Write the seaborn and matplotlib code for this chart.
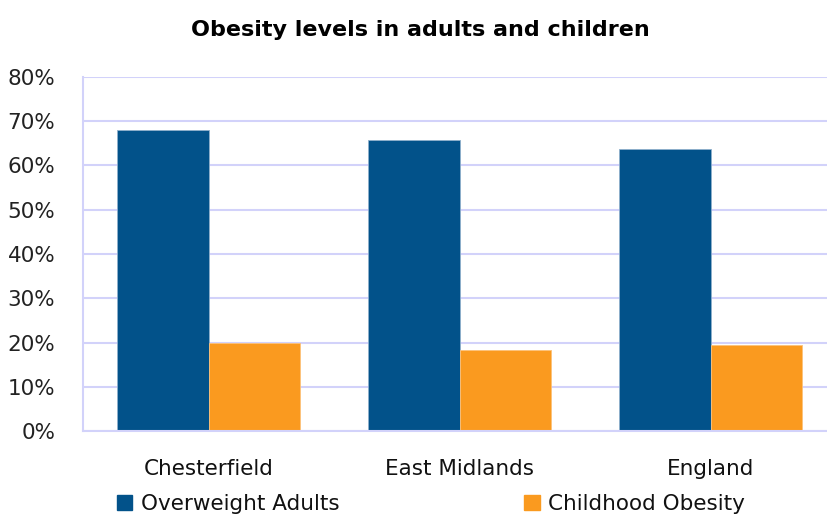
import pandas as pd
import matplotlib
matplotlib.use("Agg")
import matplotlib.pyplot as plt
import matplotlib.ticker as mticker
from matplotlib.patches import Patch
import seaborn as sns

# values (fractions)
areas = ["Chesterfield", "East Midlands", "England"]
overweight_adults = [0.68, 0.657, 0.637]
childhood_obesity = [0.199, 0.184, 0.195]
series_names = ["Overweight Adults", "Childhood Obesity"]
colours = ["#02528a", "#fa9a1f"]
edge_colours = ["#8fb0cc", "#fcc27a"]

df = pd.DataFrame({
    "area": areas * 2,
    "series": [series_names[0]] * 3 + [series_names[1]] * 3,
    "value": overweight_adults + childhood_obesity,
})

sns.set_style("white")
plt.rcParams["font.family"] = ["DejaVu Sans"]

grid_col = "#d2d2fa"

fig = plt.figure(figsize=(8.27, 5.15), dpi=100)
ax = fig.add_axes([0.1004, 0.1631, 0.9105, 0.6874])

sns.barplot(data=df, x="area", y="value", hue="series", palette=colours,
            width=0.73, gap=0, ax=ax, legend=False, saturation=1, linewidth=0.6)

# light edge per series, like the original
for cont, ec in zip(ax.containers, edge_colours):
    for bar in cont:
        bar.set_edgecolor(ec)

ax.set_ylim(0, 0.8)
ax.set_xlim(-0.5, 2.5)
ax.yaxis.set_major_locator(mticker.MultipleLocator(0.1))
ax.yaxis.set_major_formatter(mticker.FuncFormatter(lambda v, p: f"{v*100:.0f}%"))
ax.grid(axis="y", color=grid_col, linewidth=1.5)
ax.set_axisbelow(True)
ax.set_xlabel("")
ax.set_ylabel("")

for s in ["top", "right"]:
    ax.spines[s].set_visible(False)
for s in ["left", "bottom"]:
    ax.spines[s].set_color(grid_col)
    ax.spines[s].set_linewidth(1.5)

ax.tick_params(axis="y", length=10, width=1.5, color=grid_col, labelsize=15.5,
               labelcolor="#222222", pad=10)
ax.tick_params(axis="x", which="major", length=0, labelsize=15.5,
               labelcolor="#111111", pad=20)
ax.set_xticks([-0.5, 0.5, 1.5, 2.5], minor=True)
ax.tick_params(axis="x", which="minor", length=10, width=1.5, color=grid_col)

fig.suptitle("Obesity levels in adults and children", x=0.508, y=0.962,
             fontsize=16, fontweight="heavy", color="black")

# the original legend sits right at the bottom edge; keep it just inside
handles = [Patch(facecolor=c, edgecolor=c) for c in colours]
fig.legend(handles, series_names, loc="lower left", bbox_to_anchor=(0.1415, 0.002),
           ncol=2, frameon=False, fontsize=15.5, handlelength=0.7, handleheight=0.7,
           handletextpad=0.4, columnspacing=8.6, borderaxespad=0, borderpad=0,
           labelcolor="#111111")

fig.savefig("out.png", dpi=100)
